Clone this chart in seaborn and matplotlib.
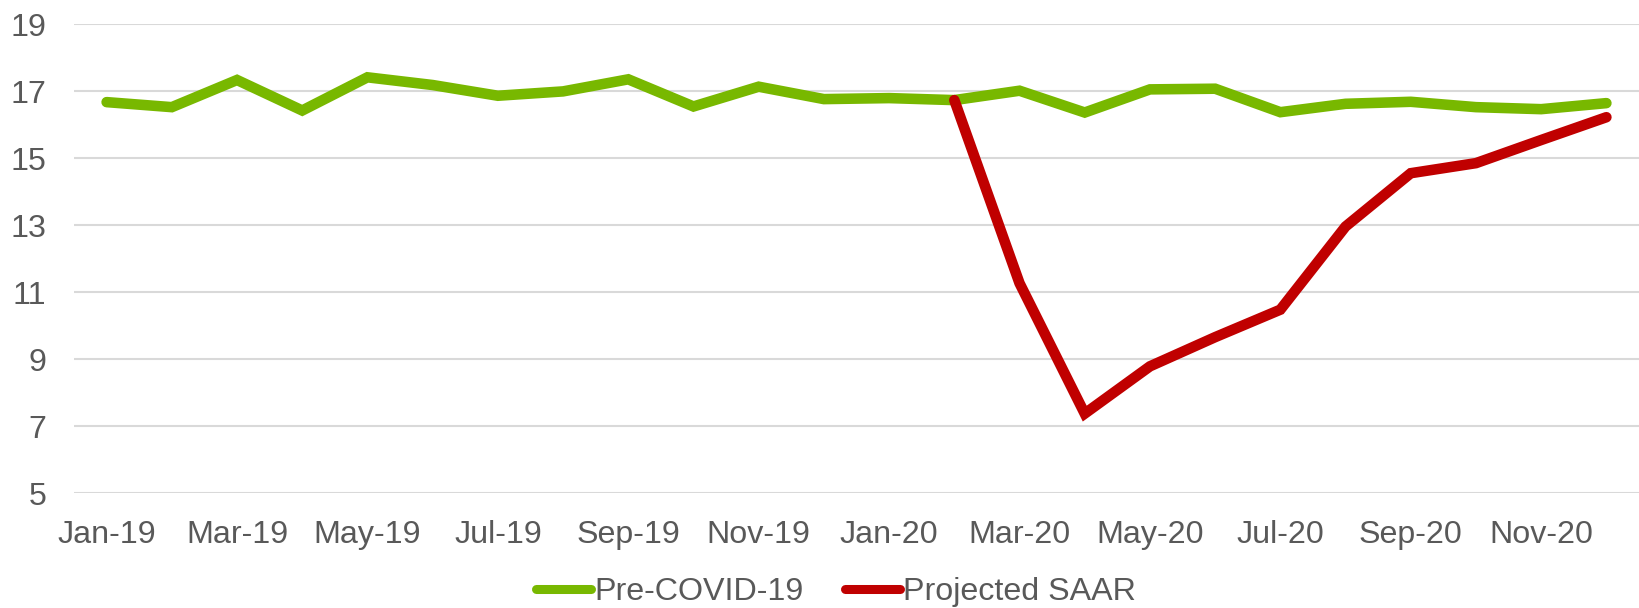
import pandas as pd
import matplotlib
matplotlib.use("Agg")
import matplotlib.pyplot as plt
import seaborn as sns

# ------------------------------------------
# Data
# ------------------------------------------
months = ["Jan-19", "Feb-19", "Mar-19", "Apr-19", "May-19", "Jun-19",
          "Jul-19", "Aug-19", "Sep-19", "Oct-19", "Nov-19", "Dec-19",
          "Jan-20", "Feb-20", "Mar-20", "Apr-20", "May-20", "Jun-20",
          "Jul-20", "Aug-20", "Sep-20", "Oct-20", "Nov-20", "Dec-20"]

pre_covid = [16.67, 16.52, 17.33, 16.42, 17.41, 17.18,
             16.86, 16.99, 17.35, 16.54, 17.13, 16.76,
             16.79, 16.73, 17.01, 16.36, 17.05, 17.07,
             16.37, 16.62, 16.68, 16.52, 16.46, 16.64]

# projection starts in Feb-20
projected_months = months[13:]
projected_saar = [16.73, 11.27, 7.38, 8.79, 9.66, 10.48,
                  12.96, 14.55, 14.85, 15.54, 16.22]

series_names = ["Pre-COVID-19", "Projected SAAR"]
series_colors = ["#78B800", "#C00000"]

# ------------------------------------------
# Long-form table for seaborn
# ------------------------------------------
df = pd.concat([
    pd.DataFrame({"month": months, "value": pre_covid, "series": series_names[0]}),
    pd.DataFrame({"month": projected_months, "value": projected_saar, "series": series_names[1]}),
], ignore_index=True)
df["pos"] = df["month"].map({m: i for i, m in enumerate(months)})

sns.set_theme(style="white")
plt.rcParams["font.family"] = ["Liberation Sans", "DejaVu Sans"]

fig = plt.figure(figsize=(16.39, 6.08), dpi=100)
ax = fig.add_axes([74 / 1639, 1 - 493.4 / 608, 1 - 74 / 1639, (493.4 - 24) / 608])

sns.lineplot(data=df, x="pos", y="value", hue="series", hue_order=series_names,
             palette=series_colors, linewidth=7.6, ax=ax, legend=False,
             solid_capstyle="round", solid_joinstyle="miter")

ax.set_xlim(-0.5, len(months) - 0.5)
ax.set_ylim(5, 19)
ax.set_yticks(range(5, 20, 2))
ax.set_xticks(range(0, len(months), 2))
ax.set_xticklabels(months[::2])
ax.set_xlabel("")
ax.set_ylabel("")

ax.grid(axis="y", color="#D9D9D9", linewidth=1.5)
ax.set_axisbelow(True)
for s in ax.spines.values():
    s.set_visible(False)
ax.tick_params(axis="both", length=0, labelsize=23.2, colors="#595959")
ax.tick_params(axis="y", pad=20)
ax.tick_params(axis="x", pad=19.5)

handles = [plt.Line2D([], [], color=c, linewidth=6.5, solid_capstyle="round")
           for c in series_colors]
fig.legend(handles, series_names, loc="center", bbox_to_anchor=(836 / 1639, 1 - 592 / 608),
           ncol=2, frameon=False, fontsize=23.2, labelcolor="#595959",
           handlelength=1.7, handletextpad=0.1, columnspacing=1.3)

fig.savefig("out.png", dpi=100)
